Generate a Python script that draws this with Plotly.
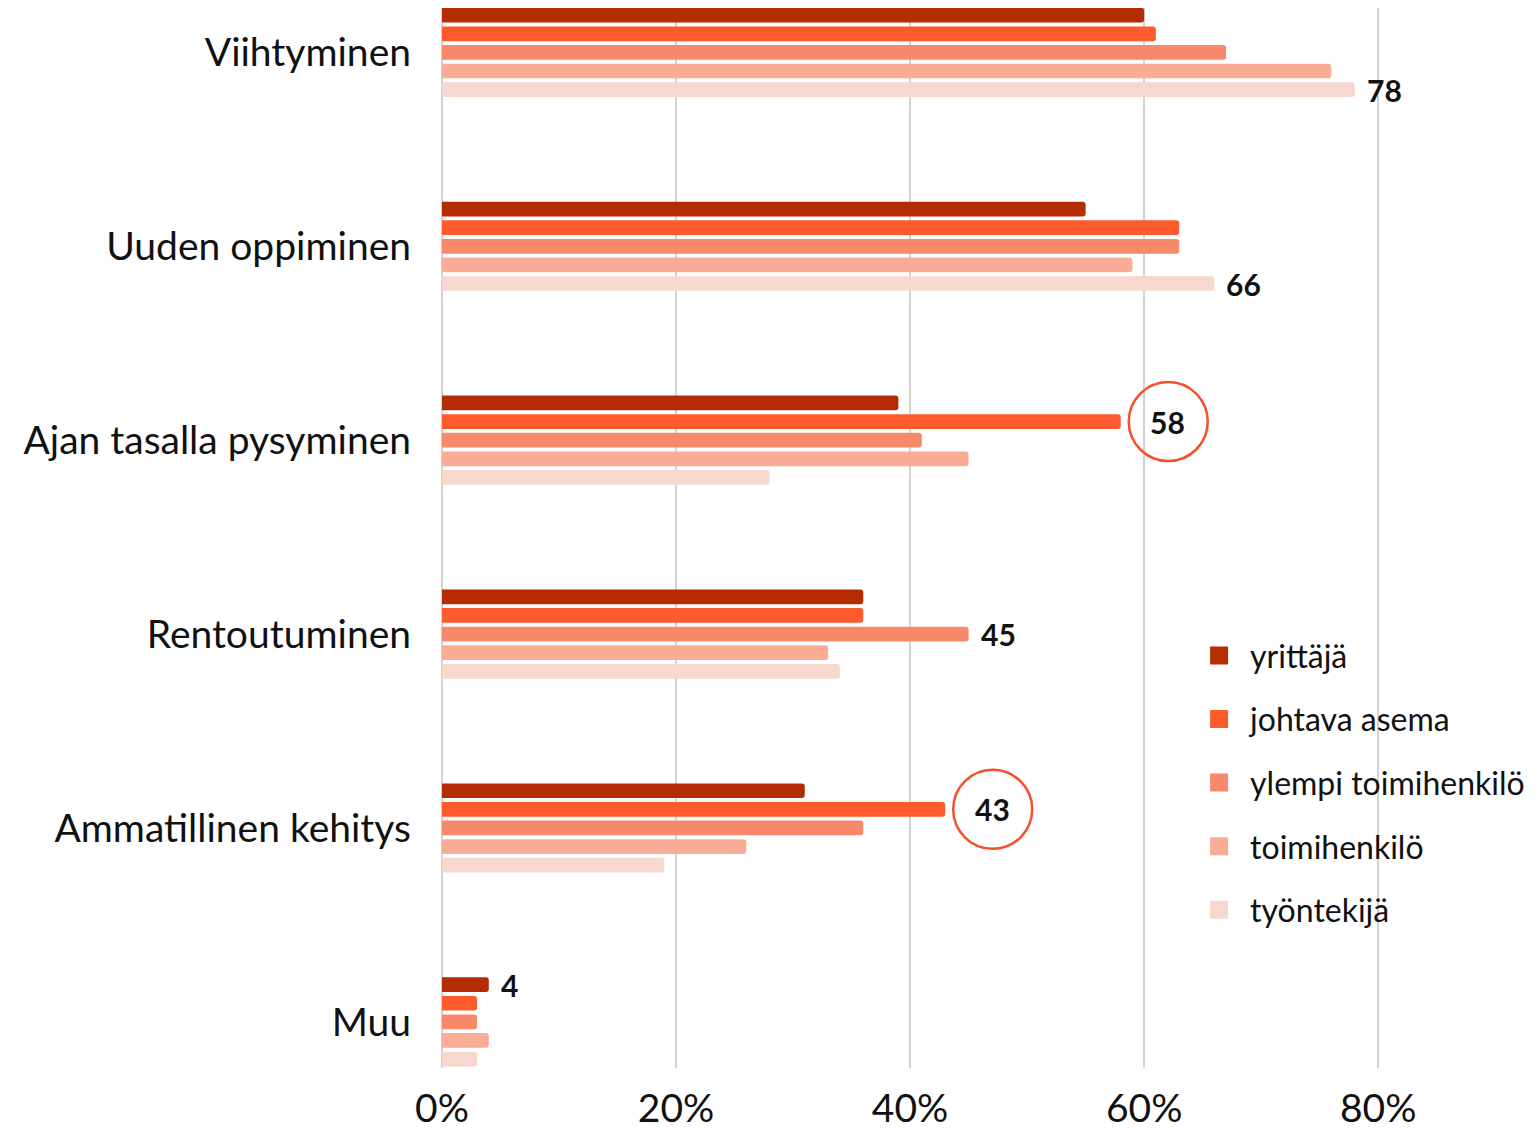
import plotly.graph_objects as go

categories = ["Viihtyminen", "Uuden oppiminen", "Ajan tasalla pysyminen",
              "Rentoutuminen", "Ammatillinen kehitys", "Muu"]
series_names = ["yrittäjä", "johtava asema", "ylempi toimihenkilö", "toimihenkilö", "työntekijä"]
yrittaja = [60, 55, 39, 36, 31, 4]
johtava = [61, 63, 58, 36, 43, 3]
ylempi = [67, 63, 41, 45, 36, 3]
toimihenkilo = [76, 59, 45, 33, 26, 4]
tyontekija = [78, 66, 28, 34, 19, 3]
series_values = [yrittaja, johtava, ylempi, toimihenkilo, tyontekija]
colors = ["#B52B02", "#FD5A2D", "#F8896B", "#F9AD97", "#F7D8CF"]
x_tickvals = [0, 20, 40, 60, 80]
x_ticktext = ["0%", "20%", "40%", "60%", "80%"]
circled_series = "johtava asema"

FONT = "Lato"
BARGAP = 0.52
N = len(series_names)

fig = go.Figure()
for name, vals, col in zip(series_names, series_values, colors):
    fig.add_trace(go.Bar(
        y=categories, x=vals, name=name, orientation="h",
        marker=dict(color=col, cornerradius=3, line=dict(width=0)),
        showlegend=False, hoverinfo="x+name",
    ))
# legend entries
for i, (name, col) in enumerate(zip(series_names, colors)):
    fig.add_trace(go.Scatter(
        x=[None], y=[None], mode="markers", name=name, legendgroup=f"g{i}",
        marker=dict(symbol="square", size=16, color=col, line=dict(color=col, width=2)),
        showlegend=True,
    ))

# value labels: the max of each category
slot = (1 - BARGAP) / N
annotations = []
shapes = []
for ci, cat in enumerate(categories):
    vals = [s[ci] for s in series_values]
    k = vals.index(max(vals))
    v = vals[k]
    yoff = ci - (1 - BARGAP) / 2 + slot * (k + 0.5)
    if series_names[k] == circled_series:
        annotations.append(dict(x=v, y=yoff, xref="x", yref="y", text=f"<b>{v}</b>",
                                showarrow=False, xanchor="center", yanchor="middle",
                                xshift=47, font=dict(family=FONT, size=30, color="#111111")))
        shapes.append(dict(type="circle", xref="x", yref="y", xsizemode="pixel", ysizemode="pixel",
                           xanchor=v, yanchor=yoff, x0=8, x1=87, y0=-39.5, y1=39.5,
                           line=dict(color="#F5502A", width=2.5), fillcolor="rgba(0,0,0,0)"))
    else:
        annotations.append(dict(x=v, y=yoff, xref="x", yref="y", text=f"<b>{v}</b>",
                                showarrow=False, xanchor="left", yanchor="middle",
                                xshift=10, font=dict(family=FONT, size=30, color="#111111")))

fig.update_layout(
    width=1530, height=1122,
    margin=dict(l=434, r=113, t=0, b=49),
    paper_bgcolor="white", plot_bgcolor="white",
    barmode="group", bargap=BARGAP, bargroupgap=0.21,
    font=dict(family=FONT, color="#111111"),
    xaxis=dict(range=[0, 84], tickvals=x_tickvals, ticktext=x_ticktext,
               showgrid=True, gridcolor="#D3D3D3", gridwidth=2,
               zeroline=True, zerolinecolor="#D3D3D3", zerolinewidth=2,
               showline=False, ticks="", tickfont=dict(family=FONT, size=39, color="#111111"),
               ticklabelstandoff=14),
    yaxis=dict(type="category", range=[5.238, -0.229], showgrid=False, zeroline=False,
               ticks="", showline=False, tickfont=dict(family=FONT, size=39, color="#111111"),
               ticklabelstandoff=30),
    legend=dict(x=0.759, y=0.415, xanchor="left", yanchor="top", bgcolor="rgba(0,0,0,0)",
                font=dict(family=FONT, size=32, color="#111111"), tracegroupgap=19,
                itemwidth=52),
    annotations=annotations, shapes=shapes,
)

fig.write_html("out.html")
